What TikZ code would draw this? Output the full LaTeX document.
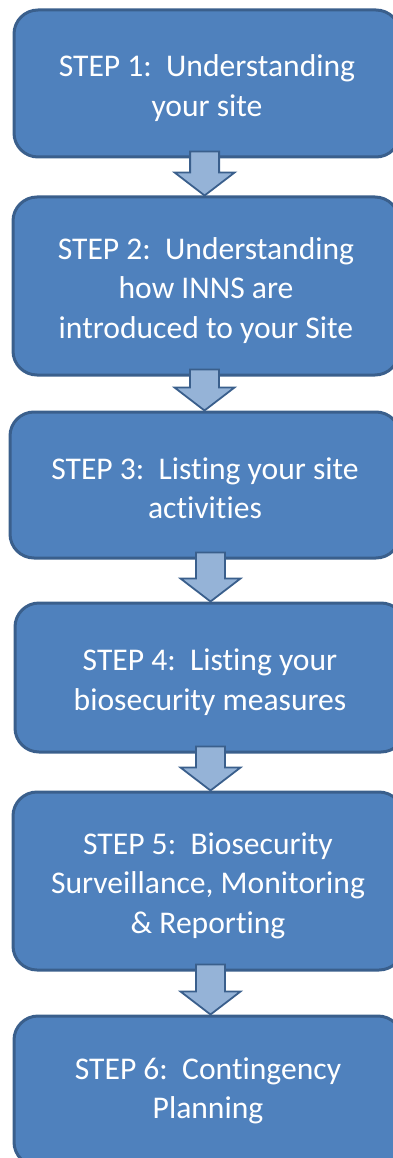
\documentclass[tikz,border=0pt]{standalone}
\usepackage{fontspec}
\setmainfont{Carlito}[Ligatures=NoCommon]
\usetikzlibrary{calc}
\definecolor{boxfill}{HTML}{4F81BD}
\definecolor{boxline}{HTML}{3A5F8C}
\definecolor{arrfill}{HTML}{95B3D7}
\tikzset{
  stepbox/.style={draw=boxline, line width=3pt, fill=boxfill, rounded corners=24pt,
    text=white, align=center, font=\fontsize{31.6}{39.5}\selectfont, inner sep=0pt},
  blockarr/.style={draw=boxline, line width=1.8pt, fill=arrfill, line join=miter}
}
\newcommand\topstrut{\rule{0pt}{31pt}}
\newcommand\stepconnector[3]{%
  \draw[blockarr] let \p1=(#1.south), \p2=(#2.north) in
    (#3pt-14.5pt,\y1+7pt) -- (#3pt+14.5pt,\y1+7pt) -- (#3pt+14.5pt,\y2+23pt)
    -- (#3pt+30pt,\y2+23pt) -- (#3pt,\y2) -- (#3pt-30pt,\y2+23pt)
    -- (#3pt-14.5pt,\y2+23pt) -- cycle;}
\begin{document}
\begin{tikzpicture}[x=1pt,y=-1pt]
\useasboundingbox (0,0) rectangle (393,1158);
\clip (0,0) rectangle (393,1158);
\node[stepbox, minimum width=386pt, minimum height=147pt] (s1) at (207,83.5)
  {\topstrut STEP 1:\ \ Understanding\\your site};
\node[stepbox, minimum width=386pt, minimum height=178pt] (s2) at (206,286)
  {\topstrut STEP 2:\ \ Understanding\\how INNS are\\introduced to your Site};
\node[stepbox, minimum width=390pt, minimum height=146pt] (s3) at (205,485)
  {\rule{0pt}{28pt}STEP 3:\ \ Listing your site\\activities};
\node[stepbox, minimum width=390pt, minimum height=149pt] (s4) at (210,677.5)
  {\topstrut STEP 4:\ \ Listing your\\biosecurity measures};
\node[stepbox, minimum width=390pt, minimum height=178pt] (s5) at (208,881)
  {\topstrut STEP 5:\ \ Biosecurity\\Surveillance, Monitoring\\\& Reporting};
\node[stepbox, minimum width=388pt, minimum height=150pt] (s6) at (208,1091)
  {STEP 6:\ \ Contingency\\Planning};
\stepconnector{s1}{s2}{204.6}
\stepconnector{s2}{s3}{204.5}
\stepconnector{s3}{s4}{210.5}
\stepconnector{s4}{s5}{210.5}
\stepconnector{s5}{s6}{210.5}
\end{tikzpicture}
\end{document}
